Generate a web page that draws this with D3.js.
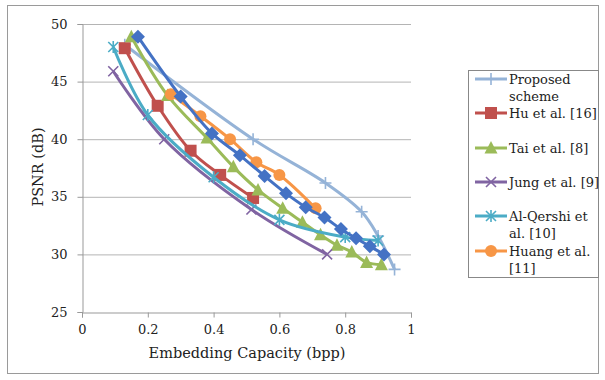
<!DOCTYPE html>
<html><head><meta charset="utf-8">
<script src="https://cdn.jsdelivr.net/npm/d3@7"></script>
<style>body{margin:0;background:#fff}svg{display:block}</style>
</head><body>
<script>
const xTicks = [0, 0.2, 0.4, 0.6, 0.8, 1];
const xTickLabels = ["0", "0.2", "0.4", "0.6", "0.8", "1"];
const yTicks = [25, 30, 35, 40, 45, 50];
const proposed = [[0.13,48.2],[0.52,40.0],[0.74,36.2],[0.85,33.7],[0.90,31.6],[0.95,28.7]];
const hu = [[0.13,47.9],[0.23,42.9],[0.33,39.0],[0.42,36.9],[0.52,34.9]];
const tai = [[0.15,48.9],[0.26,43.8],[0.38,40.1],[0.46,37.6],[0.535,35.6],[0.61,34.0],[0.67,32.8],[0.725,31.7],[0.775,30.8],[0.82,30.2],[0.865,29.3],[0.91,29.1]];
const jung = [[0.095,45.9],[0.25,40.0],[0.515,33.9],[0.745,30.0]];
const alqershi = [[0.095,48.0],[0.2,42.1],[0.4,36.7],[0.6,33.0],[0.8,31.5],[0.9,31.2]];
const huang = [[0.27,43.9],[0.36,42.0],[0.45,40.0],[0.53,38.0],[0.60,36.9],[0.71,34.0]];
const unlabeled = [[0.17,48.9],[0.30,43.7],[0.395,40.5],[0.48,38.6],[0.555,36.8],[0.62,35.3],[0.68,34.1],[0.737,33.2],[0.787,32.2],[0.833,31.4],[0.875,30.7],[0.918,30.0]];
const seriesNames = ["Proposed scheme","Hu et al. [16]","Tai et al. [8]","Jung et al. [9]","Al-Qershi et al. [10]","Huang et al. [11]",""];
const legendLines = [["Proposed","scheme"],["Hu et al. [16]"],["Tai et al. [8]"],["Jung et al. [9]"],["Al-Qershi et","al. [10]"],["Huang et al.","[11]"]];

const FONT="DejaVu Serif";
const series = [
  {name:seriesNames[0], data:proposed, color:"#95B3D7", marker:"plus"},
  {name:seriesNames[1], data:hu, color:"#C0504D", marker:"square"},
  {name:seriesNames[2], data:tai, color:"#9BBB59", marker:"triangle"},
  {name:seriesNames[3], data:jung, color:"#8064A2", marker:"x"},
  {name:seriesNames[4], data:alqershi, color:"#4BACC6", marker:"star"},
  {name:seriesNames[5], data:huang, color:"#F79646", marker:"circle"},
  {name:seriesNames[6], data:unlabeled, color:"#4472C4", marker:"diamond"}
];

const W=605,H=380;
const svg=d3.select("body").append("svg").attr("width",W).attr("height",H);
svg.append("rect").attr("x",7.5).attr("y",5.5).attr("width",591).attr("height",368).attr("fill","none").attr("stroke","#9a9a9a");

const x=d3.scaleLinear().domain([0,1]).range([82,411]);
const y=d3.scaleLinear().domain([25,50]).range([312,24]);

svg.append("g").selectAll("line").data(yTicks.filter(d=>d>25)).join("line")
  .attr("x1",82).attr("x2",411).attr("y1",d=>y(d)+0.5).attr("y2",d=>y(d)+0.5)
  .attr("stroke","#b4b4b4").attr("stroke-width",1);

const xa=svg.append("g").attr("transform","translate(0,312.5)")
  .call(d3.axisBottom(x).tickValues(xTicks).tickFormat((d,i)=>xTickLabels[i]).tickSize(5).tickPadding(7));
const ya=svg.append("g").attr("transform","translate(82.5,0)")
  .call(d3.axisLeft(y).tickValues(yTicks).tickSize(5).tickPadding(10));
[xa,ya].forEach(g=>{g.attr("font-family",null);g.select(".domain").attr("stroke","#999");g.selectAll(".tick line").attr("stroke","#999");
  g.selectAll("text").style("font-family",FONT).style("font-size","13px").attr("fill","#222");});

svg.append("text").attr("x",247).attr("y",358).attr("text-anchor","middle").style("font-family",FONT).style("font-size","14.5px").attr("fill","#222").text("Embedding Capacity (bpp)");
svg.append("text").attr("transform","translate(43,167) rotate(-90)").attr("text-anchor","middle").style("font-family",FONT).style("font-size","14.5px").attr("fill","#222").text("PSNR (dB)");

function drawMarker(g,type,color,cx,cy){
  const s=g.append("g").attr("transform",`translate(${cx},${cy})`);
  if(type==="square") s.append("rect").attr("x",-6).attr("y",-6).attr("width",12).attr("height",12).attr("fill",color);
  else if(type==="diamond") s.append("path").attr("d","M0,-7L7,0L0,7L-7,0Z").attr("fill",color);
  else if(type==="triangle") s.append("path").attr("d","M0,-7L6.5,5.5L-6.5,5.5Z").attr("fill",color);
  else if(type==="circle") s.append("circle").attr("r",6).attr("fill",color);
  else if(type==="x") s.append("path").attr("d","M-5,-5L5,5M-5,5L5,-5").attr("stroke",color).attr("stroke-width",1.6);
  else if(type==="plus") s.append("path").attr("d","M-6,0L6,0M0,-6L0,6").attr("stroke",color).attr("stroke-width",1.6);
  else if(type==="star") s.append("path").attr("d","M-5,-5L5,5M-5,5L5,-5M0,-6L0,6").attr("stroke",color).attr("stroke-width",1.6);
}

const line=d3.line().x(d=>x(d[0])).y(d=>y(d[1])).curve(d3.curveCatmullRom.alpha(0.5));
series.forEach(s=>{
  const g=svg.append("g");
  g.append("path").datum(s.data).attr("d",line).attr("fill","none").attr("stroke",s.color).attr("stroke-width",3).attr("stroke-linejoin","round");
  s.data.forEach(d=>drawMarker(g,s.marker,s.color,x(d[0]),y(d[1])));
});

const lg=svg.append("g");
lg.append("rect").attr("x",468.5).attr("y",70.5).attr("width",130).attr("height",207).attr("fill","#fff").attr("stroke","#888");
svg.append("clipPath").attr("id","lc").append("rect").attr("x",468).attr("y",70).attr("width",131).attr("height",207.5);
const lgi=lg.append("g").attr("clip-path","url(#lc)");
const rowY=[79,113,148,182,216,251];
legendLines.forEach((lines,i)=>{
  const s=series[i], yy=rowY[i];
  lgi.append("line").attr("x1",475).attr("x2",507).attr("y1",yy).attr("y2",yy).attr("stroke",s.color).attr("stroke-width",3);
  drawMarker(lgi,s.marker,s.color,491,yy);
  lines.forEach((t,j)=>lgi.append("text").attr("x",509).attr("y",yy+5+j*17).style("font-family",FONT).style("font-size","13px").attr("fill","#222").text(t));
});
</script>
</body></html>
